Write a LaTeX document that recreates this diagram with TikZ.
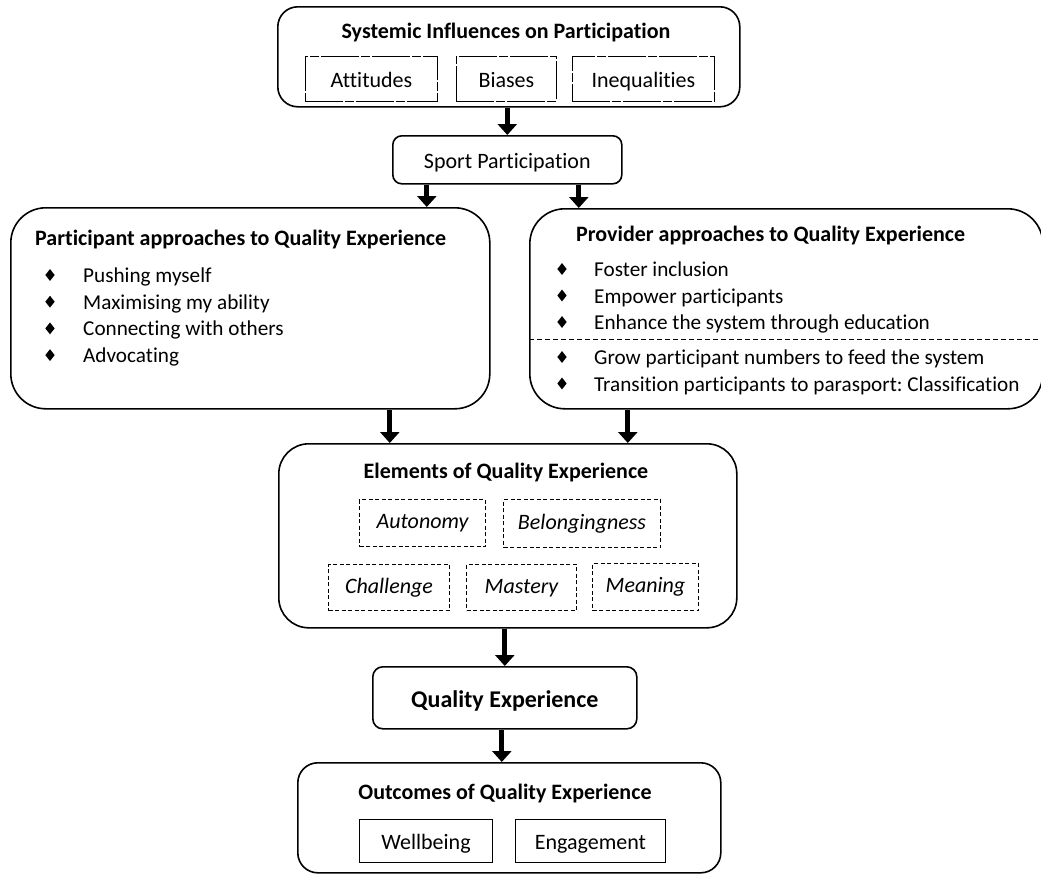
\documentclass[tikz,border=0pt]{standalone}
\usepackage{fontspec}
\setmainfont{Carlito}[Ligatures=NoCommon]
\usetikzlibrary{arrows.meta,shapes.geometric}
\frenchspacing
\begin{document}
\begin{tikzpicture}[x=1pt,y=-1pt,
  bigbox/.style={draw, line width=1.6pt, rounded corners=#1, inner sep=0pt, anchor=north west},
  inner/.style={text height=17pt, text depth=0pt},
  dotbox/.style={draw, line width=0.9pt, dash pattern=on 38pt off 2pt on 9pt off 2pt, inner sep=0pt, anchor=north west, font=\fs, inner},
  dbox/.style={draw, line width=1pt, dash pattern=on 4pt off 2.5pt, inner sep=0pt, anchor=north west, font=\fs\itshape, text height=15pt, text depth=4pt},
  sbox/.style={draw, line width=1pt, inner sep=0pt, anchor=north west, font=\fs, inner},
  txt/.style={inner sep=0pt, text height=16pt, text depth=1pt, font=\fb},
  ttl/.style={txt, font=\fs\bfseries},
  bul/.style={shape=diamond, fill=black, inner sep=0pt, minimum width=9.5pt, minimum height=12pt},
  bigarrow/.style={line width=5pt, -{Triangle[width=19pt,length=11pt]}}
]
\newcommand\fs{\fontsize{22}{26}\selectfont}
\newcommand\fb{\fontsize{21.2}{25}\selectfont}
\useasboundingbox (0,0) rectangle (1041,873);
\fill[white] (0,0) rectangle (1041,873);

% Systemic influences
\node[bigbox=20pt, minimum width=462pt, minimum height=100pt] (sys) at (277,6) {};
\node[ttl] (systtl) at (506,31) {Systemic Influences on Participation};
\node[dotbox, minimum width=132pt, minimum height=45pt] (att) at (305,56) {Attitudes};
\node[dotbox, minimum width=100pt, minimum height=45pt] (bia) at (456,56) {Biases};
\node[dotbox, minimum width=142pt, minimum height=45pt] (ineq) at (572,56) {Inequalities};

% Sport participation
\node[bigbox=9pt, minimum width=229pt, minimum height=48pt, font=\fs, inner] (sport) at (392,135) {Sport Participation};

% Participant approaches
\node[bigbox=35pt, minimum width=479pt, minimum height=201pt] (part) at (10,207) {};
\node[ttl, anchor=west] (parttl) at (35,238) {Participant approaches to Quality Experience};
\foreach \t [count=\i] in {Pushing myself, Maximising my ability, Connecting with others, Advocating}{
  \node[bul] (pb\i) at (50,{275+26.7*(\i-1)}) {};
  \node[txt, anchor=west] (pt\i) at (83,{275+26.7*(\i-1)}) {\t};
}

% Provider approaches
\node[bigbox=35pt, minimum width=513pt, minimum height=200pt] (prov) at (529,208) {};
\node[ttl, anchor=west] (provttl) at (576,234) {Provider approaches to Quality Experience};
\foreach \t [count=\i] in {Foster inclusion, Empower participants, Enhance the system through education}{
  \node[bul] (qb\i) at (562,{269+26.5*(\i-1)}) {};
  \node[txt, anchor=west] (qt\i) at (594,{269+26.5*(\i-1)}) {\t};
}
\coordinate (dl) at (529,339);
\draw[line width=0.9pt, dash pattern=on 5pt off 3pt] (dl) -- (dl -| prov.east);
\foreach \t [count=\i] in {Grow participant numbers to feed the system, Transition participants to parasport: Classification}{
  \node[bul] (rb\i) at (562,{357+26.5*(\i-1)}) {};
  \node[txt, anchor=west] (rt\i) at (594,{357+26.5*(\i-1)}) {\t};
}

% Elements
\node[bigbox=30pt, minimum width=458pt, minimum height=184pt] (elem) at (278,443) {};
\node[ttl] (elemttl) at (506,471) {Elements of Quality Experience};
\node[dbox, minimum width=126pt, minimum height=47pt] (aut) at (359,499) {Autonomy};
\node[dbox, minimum width=157pt, minimum height=48pt] (bel) at (503,499) {Belongingness};
\node[dbox, minimum width=121pt, minimum height=46pt] (cha) at (328,564) {Challenge};
\node[dbox, minimum width=110pt, minimum height=46pt] (mas) at (466,564) {Mastery};
\node[dbox, minimum width=106pt, minimum height=47pt] (mea) at (592,563) {Meaning};

% Quality experience
\node[bigbox=10pt, minimum width=264pt, minimum height=62pt, font=\fontsize{24}{28}\selectfont\bfseries, text height=19pt, text depth=0pt] (qe) at (372,666) {Quality Experience};

% Outcomes
\node[bigbox=20pt, minimum width=423pt, minimum height=110pt] (out) at (297,762) {};
\node[ttl] (outttl) at (505,792) {Outcomes of Quality Experience};
\node[sbox, minimum width=133pt, minimum height=43pt] (wel) at (359,819) {Wellbeing};
\node[sbox, minimum width=150pt, minimum height=43pt] (eng) at (515,819) {Engagement};

% Arrows
\draw[bigarrow] (sport.north |- sys.south) -- (sport.north);
\draw[bigarrow] ([xshift=-80.5pt]sport.south) -- ([xshift=-80.5pt]sport.south |- part.north);
\draw[bigarrow] ([xshift=71.5pt]sport.south) -- ([xshift=71.5pt]sport.south |- prov.north);
\draw[bigarrow] ([xshift=139.5pt]part.south) -- ([xshift=139.5pt]part.south |- elem.north);
\draw[bigarrow] ([xshift=-158.5pt]prov.south) -- ([xshift=-158.5pt]prov.south |- elem.north);
\draw[bigarrow] ([xshift=-3pt]elem.south) -- ([xshift=-3pt]elem.south |- qe.north);
\draw[bigarrow] ([xshift=-3pt]qe.south) -- ([xshift=-3pt]qe.south |- out.north);
\end{tikzpicture}
\end{document}
